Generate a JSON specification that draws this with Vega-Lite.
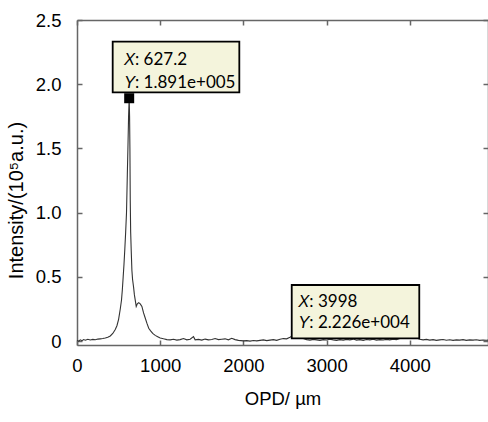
{
  "$schema": "https://vega.github.io/schema/vega-lite/v6.json",
  "width": 411,
  "height": 325,
  "autosize": "none",
  "padding": {"left": 77, "top": 20, "right": 0, "bottom": 77},
  "config": {
    "view": {"stroke": null},
    "axis": {
      "labelFont": "Liberation Sans",
      "titleFont": "Liberation Sans",
      "labelFontSize": 18.5,
      "titleFontSize": 18.5,
      "titleFontWeight": "normal",
      "labelColor": "#000",
      "titleColor": "#000",
      "domainColor": "#666",
      "domainWidth": 1.5,
      "tickColor": "#666",
      "tickWidth": 1.5,
      "tickSize": -5,
      "grid": false
    }
  },
  "datasets": {
    "curve": [
      {"opd": 0, "intensity": 0.005}, {"opd": 20, "intensity": 0.0}, {"opd": 40, "intensity": 0.01},
      {"opd": 60, "intensity": 0.004}, {"opd": 80, "intensity": 0.012}, {"opd": 100, "intensity": 0.007},
      {"opd": 130, "intensity": 0.015}, {"opd": 160, "intensity": 0.009}, {"opd": 190, "intensity": 0.014},
      {"opd": 220, "intensity": 0.011}, {"opd": 250, "intensity": 0.016}, {"opd": 280, "intensity": 0.018},
      {"opd": 310, "intensity": 0.02}, {"opd": 340, "intensity": 0.024}, {"opd": 370, "intensity": 0.03},
      {"opd": 400, "intensity": 0.04}, {"opd": 430, "intensity": 0.06}, {"opd": 460, "intensity": 0.09},
      {"opd": 480, "intensity": 0.12}, {"opd": 500, "intensity": 0.17}, {"opd": 520, "intensity": 0.25},
      {"opd": 535, "intensity": 0.32}, {"opd": 545, "intensity": 0.4}, {"opd": 555, "intensity": 0.5},
      {"opd": 565, "intensity": 0.6}, {"opd": 575, "intensity": 0.72}, {"opd": 585, "intensity": 0.85},
      {"opd": 595, "intensity": 1.0}, {"opd": 605, "intensity": 1.3}, {"opd": 612, "intensity": 1.5},
      {"opd": 620, "intensity": 1.75}, {"opd": 627.2, "intensity": 1.891}, {"opd": 632, "intensity": 1.75},
      {"opd": 636, "intensity": 1.5}, {"opd": 640, "intensity": 1.1}, {"opd": 645, "intensity": 0.85},
      {"opd": 652, "intensity": 0.7}, {"opd": 660, "intensity": 0.55}, {"opd": 668, "intensity": 0.48},
      {"opd": 680, "intensity": 0.42}, {"opd": 690, "intensity": 0.36}, {"opd": 700, "intensity": 0.32},
      {"opd": 712, "intensity": 0.27}, {"opd": 725, "intensity": 0.29}, {"opd": 742, "intensity": 0.3},
      {"opd": 760, "intensity": 0.29}, {"opd": 780, "intensity": 0.27}, {"opd": 800, "intensity": 0.22},
      {"opd": 820, "intensity": 0.18}, {"opd": 840, "intensity": 0.14}, {"opd": 862, "intensity": 0.1},
      {"opd": 885, "intensity": 0.08}, {"opd": 910, "intensity": 0.06}, {"opd": 940, "intensity": 0.045},
      {"opd": 970, "intensity": 0.035}, {"opd": 1000, "intensity": 0.025}, {"opd": 1040, "intensity": 0.018},
      {"opd": 1080, "intensity": 0.012}, {"opd": 1120, "intensity": 0.01}, {"opd": 1160, "intensity": 0.015},
      {"opd": 1200, "intensity": 0.008}, {"opd": 1240, "intensity": 0.012}, {"opd": 1280, "intensity": 0.02},
      {"opd": 1320, "intensity": 0.01}, {"opd": 1360, "intensity": 0.015}, {"opd": 1400, "intensity": 0.035},
      {"opd": 1420, "intensity": 0.01}, {"opd": 1460, "intensity": 0.014}, {"opd": 1500, "intensity": 0.008},
      {"opd": 1540, "intensity": 0.016}, {"opd": 1580, "intensity": 0.01}, {"opd": 1620, "intensity": 0.013},
      {"opd": 1660, "intensity": 0.02}, {"opd": 1700, "intensity": 0.012}, {"opd": 1740, "intensity": 0.015},
      {"opd": 1780, "intensity": 0.018}, {"opd": 1820, "intensity": 0.01}, {"opd": 1860, "intensity": 0.022},
      {"opd": 1900, "intensity": 0.012}, {"opd": 1940, "intensity": 0.006}, {"opd": 2000, "intensity": 0.002},
      {"opd": 2040, "intensity": 0.004}, {"opd": 2080, "intensity": 0.0}, {"opd": 2120, "intensity": 0.005},
      {"opd": 2160, "intensity": 0.002}, {"opd": 2200, "intensity": 0.006}, {"opd": 2240, "intensity": 0.01},
      {"opd": 2280, "intensity": 0.004}, {"opd": 2320, "intensity": 0.008}, {"opd": 2360, "intensity": 0.012},
      {"opd": 2400, "intensity": 0.006}, {"opd": 2440, "intensity": 0.015}, {"opd": 2480, "intensity": 0.02},
      {"opd": 2520, "intensity": 0.018}, {"opd": 2560, "intensity": 0.03}, {"opd": 2600, "intensity": 0.045},
      {"opd": 2640, "intensity": 0.04}, {"opd": 2680, "intensity": 0.035}, {"opd": 2720, "intensity": 0.02},
      {"opd": 2760, "intensity": 0.012}, {"opd": 2800, "intensity": 0.008}, {"opd": 2840, "intensity": 0.014},
      {"opd": 2880, "intensity": 0.01}, {"opd": 2920, "intensity": 0.006}, {"opd": 2960, "intensity": 0.012},
      {"opd": 3000, "intensity": 0.009}, {"opd": 3040, "intensity": 0.015}, {"opd": 3080, "intensity": 0.01},
      {"opd": 3120, "intensity": 0.006}, {"opd": 3160, "intensity": 0.012}, {"opd": 3200, "intensity": 0.008},
      {"opd": 3240, "intensity": 0.014}, {"opd": 3280, "intensity": 0.01}, {"opd": 3320, "intensity": 0.016},
      {"opd": 3360, "intensity": 0.008}, {"opd": 3400, "intensity": 0.012}, {"opd": 3440, "intensity": 0.006},
      {"opd": 3480, "intensity": 0.013}, {"opd": 3520, "intensity": 0.01}, {"opd": 3560, "intensity": 0.015},
      {"opd": 3600, "intensity": 0.008}, {"opd": 3640, "intensity": 0.012}, {"opd": 3680, "intensity": 0.009},
      {"opd": 3720, "intensity": 0.014}, {"opd": 3760, "intensity": 0.01}, {"opd": 3800, "intensity": 0.016},
      {"opd": 3840, "intensity": 0.012}, {"opd": 3880, "intensity": 0.02}, {"opd": 3920, "intensity": 0.03},
      {"opd": 3960, "intensity": 0.035}, {"opd": 3998, "intensity": 0.03}, {"opd": 4040, "intensity": 0.035},
      {"opd": 4080, "intensity": 0.025}, {"opd": 4120, "intensity": 0.015}, {"opd": 4160, "intensity": 0.01},
      {"opd": 4200, "intensity": 0.014}, {"opd": 4240, "intensity": 0.008}, {"opd": 4280, "intensity": 0.012},
      {"opd": 4320, "intensity": 0.006}, {"opd": 4360, "intensity": 0.01}, {"opd": 4400, "intensity": 0.013},
      {"opd": 4440, "intensity": 0.007}, {"opd": 4480, "intensity": 0.011}, {"opd": 4520, "intensity": 0.006},
      {"opd": 4560, "intensity": 0.01}, {"opd": 4600, "intensity": 0.008}, {"opd": 4640, "intensity": 0.012},
      {"opd": 4680, "intensity": 0.006}, {"opd": 4720, "intensity": 0.01}, {"opd": 4760, "intensity": 0.008},
      {"opd": 4800, "intensity": 0.011}, {"opd": 4840, "intensity": 0.006}, {"opd": 4880, "intensity": 0.009},
      {"opd": 4920, "intensity": 0.007}, {"opd": 4940, "intensity": 0.008}
    ],
    "boxes": [
      {"x1": 429, "x2": 1951, "y1": 1.937, "y2": 2.331},
      {"x1": 2581, "x2": 4114, "y1": 0.022, "y2": 0.437}
    ],
    "tiptext": [
      {"tx": 565, "ty": 2.149, "k": "X", "rest": ": 627.2"},
      {"tx": 565, "ty": 1.973, "k": "Y", "rest": ": 1.891e+005"},
      {"tx": 2660, "ty": 0.268, "k": "X", "rest": ": 3998"},
      {"tx": 2660, "ty": 0.1, "k": "Y", "rest": ": 2.226e+004"}
    ],
    "marker": [
      {"opd": 627.2, "intensity": 1.891}
    ]
  },
  "resolve": {"axis": {"x": "independent", "y": "independent"}},
  "layer": [
    {
      "data": {"name": "curve"},
      "mark": {"type": "line", "color": "#333", "strokeWidth": 1.1, "clip": true},
      "encoding": {
        "x": {"field": "opd", "type": "quantitative",
          "scale": {"domain": [0, 4940], "nice": false, "zero": false},
          "axis": {"orient": "bottom", "values": [0, 1000, 2000, 3000, 4000], "format": "d", "title": "OPD/ µm",
            "labelPadding": 16, "titlePadding": 15, "labelFlush": false}},
        "y": {"field": "intensity", "type": "quantitative",
          "scale": {"domain": [-0.03, 2.5], "nice": false, "zero": false},
          "axis": {"orient": "left", "values": [0, 0.5, 1, 1.5, 2, 2.5],
            "labelExpr": "datum.value == 0 ? '0' : format(datum.value, '.1f')",
            "title": "Intensity/(10⁵a.u.)", "titleFontSize": 20, "titleY": 180, "labelPadding": 21, "titlePadding": 9}}
      }
    },
    {
      "data": {"name": "boxes"},
      "mark": {"type": "rect", "fill": "#f4f4dc", "stroke": "#000", "strokeWidth": 1.8},
      "encoding": {
        "x": {"field": "x1", "type": "quantitative",
          "scale": {"domain": [0, 4940], "nice": false, "zero": false},
          "axis": {"orient": "top", "values": [0, 1000, 2000, 3000, 4000], "labels": false, "title": null}},
        "x2": {"field": "x2"},
        "y": {"field": "y1", "type": "quantitative",
          "scale": {"domain": [-0.03, 2.5], "nice": false, "zero": false},
          "axis": {"orient": "right", "values": [0, 0.5, 1, 1.5, 2, 2.5], "labels": false, "title": null}},
        "y2": {"field": "y2"}
      }
    },
    {
      "data": {"name": "marker"},
      "mark": {"type": "square", "size": 100, "color": "#000", "opacity": 1},
      "encoding": {
        "x": {"field": "opd", "type": "quantitative", "scale": {"domain": [0, 4940], "nice": false, "zero": false}, "axis": null},
        "y": {"field": "intensity", "type": "quantitative", "scale": {"domain": [-0.03, 2.5], "nice": false, "zero": false}, "axis": null}
      }
    },
    {
      "data": {"name": "tiptext"},
      "mark": {"type": "text", "font": "Liberation Sans", "fontSize": 16.5, "fontStyle": "italic", "align": "left", "baseline": "alphabetic", "color": "#000"},
      "encoding": {
        "x": {"field": "tx", "type": "quantitative", "scale": {"domain": [0, 4940], "nice": false, "zero": false}, "axis": null},
        "y": {"field": "ty", "type": "quantitative", "scale": {"domain": [-0.03, 2.5], "nice": false, "zero": false}, "axis": null},
        "text": {"field": "k"}
      }
    },
    {
      "data": {"name": "tiptext"},
      "mark": {"type": "text", "font": "Lato", "fontSize": 17, "align": "left", "baseline": "alphabetic", "dx": 11, "color": "#000"},
      "encoding": {
        "x": {"field": "tx", "type": "quantitative", "scale": {"domain": [0, 4940], "nice": false, "zero": false}, "axis": null},
        "y": {"field": "ty", "type": "quantitative", "scale": {"domain": [-0.03, 2.5], "nice": false, "zero": false}, "axis": null},
        "text": {"field": "rest"}
      }
    }
  ]
}
